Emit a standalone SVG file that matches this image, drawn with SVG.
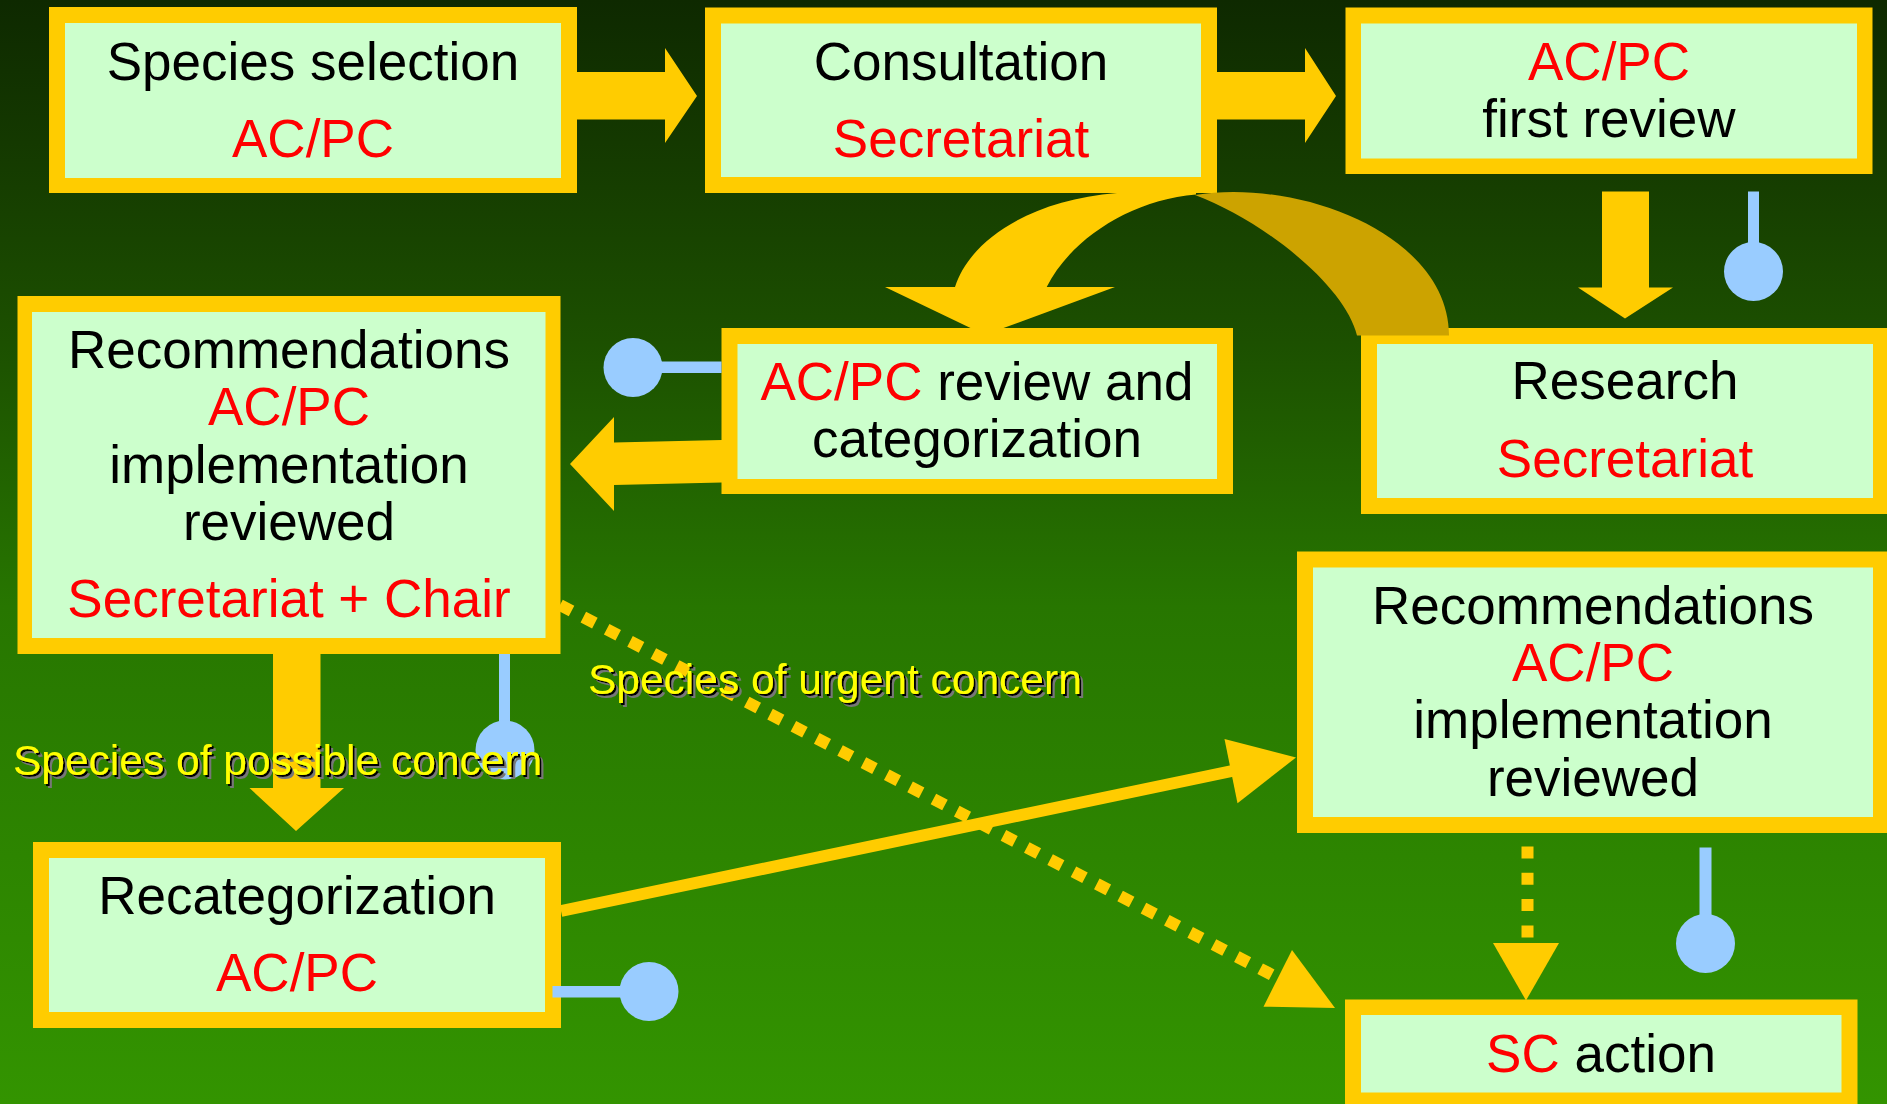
<svg xmlns="http://www.w3.org/2000/svg" width="1887" height="1104" viewBox="0 0 1887 1104">
<defs>
<linearGradient id="bg" x1="0" y1="0" x2="0" y2="1">
<stop offset="0" stop-color="#0E2900"/>
<stop offset="0.17" stop-color="#163E00"/>
<stop offset="0.31" stop-color="#1C5000"/>
<stop offset="0.55" stop-color="#277600"/>
<stop offset="1" stop-color="#339400"/>
</linearGradient>
<filter id="shadow" x="-5%" y="-20%" width="115%" height="150%">
<feOffset in="SourceAlpha" dx="4" dy="4" result="o1"/>
<feFlood flood-color="#777777"/>
<feComposite in2="o1" operator="in" result="gray"/>
<feOffset in="SourceAlpha" dx="1.5" dy="1.5" result="o2"/>
<feFlood flood-color="#000000"/>
<feComposite in2="o2" operator="in" result="black"/>
<feMerge>
<feMergeNode in="gray"/>
<feMergeNode in="black"/>
<feMergeNode in="SourceGraphic"/>
</feMerge>
</filter>
<style>
.bo{fill:#FFCC00}
.bi{fill:#CCFFCC}
.t{font-family:"Liberation Sans",Arial,sans-serif;font-size:53px;text-anchor:middle;fill:#000}
.r{fill:#FF0000}
.arr{fill:#FFCC00}
.dark{fill:#CCA300}
.dot{stroke:#FFCC00;stroke-width:12;fill:none}
.pin{fill:#99CCFF}
.lab{font-family:"Liberation Sans",Arial,sans-serif;font-size:42.5px;fill:#FFFF00;filter:url(#shadow)}
</style>
</defs>
<rect x="0" y="0" width="1887" height="1104" fill="url(#bg)"/>

<g id="nodes">
<g id="species-selection">
<rect class="bo" x="49" y="7" width="528" height="186"/>
<rect class="bi" x="65" y="23" width="496" height="155"/>
<text class="t" x="313" y="80">Species selection</text>
<text class="t r" x="313" y="157">AC/PC</text>
</g>
<g id="consultation">
<rect class="bo" x="705" y="7.5" width="512" height="185.5"/>
<rect class="bi" x="721" y="23.5" width="480" height="153.5"/>
<text class="t" x="961" y="80">Consultation</text>
<text class="t r" x="961" y="157">Secretariat</text>
</g>
<g id="first-review">
<rect class="bo" x="1345.5" y="7.5" width="527" height="166.5"/>
<rect class="bi" x="1361" y="23.5" width="496" height="135"/>
<text class="t r" x="1609" y="80">AC/PC</text>
<text class="t" x="1609" y="137">first review</text>
</g>
<g id="research">
<rect class="bo" x="1361" y="328" width="530" height="186"/>
<rect class="bi" x="1377" y="344" width="496" height="154"/>
<text class="t" x="1625" y="399">Research</text>
<text class="t r" x="1625" y="477">Secretariat</text>
</g>
<g id="review-categorization">
<rect class="bo" x="721.5" y="328" width="511.5" height="166"/>
<rect class="bi" x="737.5" y="344" width="479.5" height="135"/>
<text class="t" x="977" y="400"><tspan class="r">AC/PC</tspan> review and</text>
<text class="t" x="977" y="457">categorization</text>
</g>
<g id="recommendations-left">
<rect class="bo" x="17.5" y="296" width="543" height="358"/>
<rect class="bi" x="32" y="312" width="513.5" height="326"/>
<text class="t" x="289" y="367.5">Recommendations</text>
<text class="t r" x="289" y="425">AC/PC</text>
<text class="t" x="289" y="483">implementation</text>
<text class="t" x="289" y="540">reviewed</text>
<text class="t r" x="289" y="616.5">Secretariat + Chair</text>
</g>
<g id="recategorization">
<rect class="bo" x="33" y="842" width="528" height="186"/>
<rect class="bi" x="49" y="858" width="496" height="154"/>
<text class="t" x="297" y="914">Recategorization</text>
<text class="t r" x="297" y="991">AC/PC</text>
</g>
<g id="recommendations-right">
<rect class="bo" x="1297" y="551.5" width="594" height="281.5"/>
<rect class="bi" x="1313" y="567.5" width="560" height="249.5"/>
<text class="t" x="1593" y="623.5">Recommendations</text>
<text class="t r" x="1593" y="681">AC/PC</text>
<text class="t" x="1593" y="738">implementation</text>
<text class="t" x="1593" y="795.5">reviewed</text>
</g>
<g id="sc-action">
<rect class="bo" x="1345" y="999.5" width="512.5" height="110"/>
<rect class="bi" x="1361" y="1015" width="480.5" height="77.5"/>
<text class="t" x="1601" y="1071.5"><tspan class="r">SC</tspan> action</text>
</g>
</g>

<g id="connectors">
<polygon class="arr" points="577,72 665,72 665,48 697,96 665,143 665,119.5 577,119.5"/>
<polygon class="arr" points="1217,72 1305,72 1305,48 1336,96 1305,143 1305,119.5 1217,119.5"/>
<polygon class="arr" points="1602,191.5 1649,191.5 1649,287.5 1673,287.5 1625,318.5 1578,287.5 1602,287.5"/>
<path class="dark" d="M1195,195 C1300,178 1449,235 1449,335.5 L1357,335.5 C1345,285 1262,220 1195,195 Z"/>
<path class="arr" d="M1196,194.5 C1130,200 1070,240 1046.7,287 L1115,287 L1003.5,328 L970.5,328 L885,287 L955,287 C970,240 1030,200 1117,193 L1196,193 Z"/>
<polygon class="arr" points="722,440 614,442.5 614,417 570,464 614,511 614,485 722,482.5"/>
<polygon class="arr" points="273,654 320.5,654 320.5,788 344,788 296,831 249.5,788 273,788"/>
<line class="dot" x1="560" y1="605" x2="1278" y2="978" stroke-dasharray="13 13.3"/>
<polygon class="arr" points="1292,950 1335,1008 1263.5,1006.7"/>
<line x1="561" y1="911" x2="1232" y2="771" stroke="#FFCC00" stroke-width="12"/>
<polygon class="arr" points="1224.5,739 1296,757.5 1237.5,803.3"/>
<line class="dot" x1="1527.5" y1="846.5" x2="1527.5" y2="940" stroke-width="13" stroke-dasharray="12 14.3"/>
<polygon class="arr" points="1493,943 1559,943 1526,1000.5"/>
</g>

<g id="pins">
<rect class="pin" x="1748" y="191.5" width="11" height="60"/>
<circle class="pin" cx="1753.5" cy="271.5" r="29.5"/>
<rect class="pin" x="650" y="361.5" width="71.5" height="11.5"/>
<circle class="pin" cx="633" cy="367.5" r="29.5"/>
<rect class="pin" x="499" y="654" width="11" height="80"/>
<circle class="pin" cx="505" cy="750" r="29.5"/>
<rect class="pin" x="552.5" y="986" width="80" height="11.5"/>
<circle class="pin" cx="649" cy="991.5" r="29.5"/>
<rect class="pin" x="1699.5" y="847.5" width="12" height="75"/>
<circle class="pin" cx="1705.5" cy="943.5" r="29.5"/>
</g>

<g id="labels">
<text class="lab" x="13" y="775">Species of possible concern</text>
<text class="lab" x="588" y="694">Species of urgent concern</text>
</g>
</svg>
